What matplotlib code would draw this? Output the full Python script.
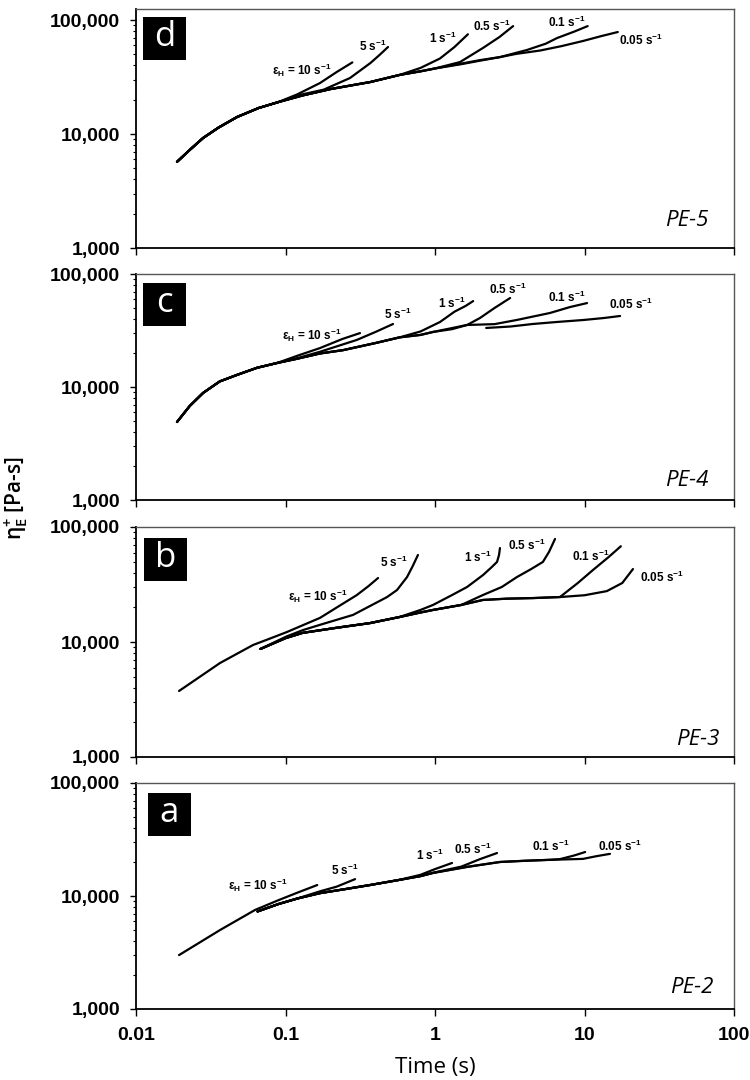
import matplotlib
matplotlib.use("Agg")
import matplotlib.pyplot as plt
from matplotlib.font_manager import FontProperties
from matplotlib.patches import Rectangle
from matplotlib.ticker import FixedLocator, FuncFormatter, LogLocator, NullFormatter

# Extension rates, in the order the curves are stored for every sample
RATES = ["10", "5", "1", "0.5", "0.1", "0.05"]

# ---- PE-5 : transient extensional viscosity (t [s], eta [Pa-s]) ----
pe5_10 = [(0.0188, 5700), (0.0229, 7260), (0.0281, 9230), (0.0355, 11350), (0.0474, 14100),
          (0.066, 16900), (0.09, 19100), (0.12, 22300), (0.17, 28000), (0.22, 35000),
          (0.28, 42500)]
pe5_5 = [(0.0188, 5700), (0.0229, 7260), (0.0281, 9230), (0.0355, 11350), (0.0474, 14100),
         (0.066, 16900), (0.09, 19100), (0.12, 21800), (0.18, 24500), (0.27, 31000),
         (0.37, 42000), (0.43, 50000), (0.485, 58000)]
pe5_1 = [(0.0188, 5700), (0.0229, 7260), (0.0281, 9230), (0.0355, 11350), (0.0474, 14100),
         (0.066, 16900), (0.09, 19100), (0.13, 21800), (0.2, 24800), (0.37, 28600),
         (0.58, 33000), (0.8, 38000), (1.08, 46000), (1.35, 58000), (1.66, 75000)]
pe5_05 = [(0.0188, 5700), (0.0229, 7260), (0.0281, 9230), (0.0355, 11350), (0.0474, 14100),
          (0.066, 16900), (0.09, 19100), (0.13, 21800), (0.2, 24800), (0.37, 28600),
          (0.58, 33000), (0.8, 35500), (1.0, 37600), (1.47, 42800), (2.09, 56800),
          (2.7, 71000), (3.33, 88500)]
pe5_01 = [(0.0188, 5700), (0.0229, 7260), (0.0281, 9230), (0.0355, 11350), (0.0474, 14100),
          (0.066, 16900), (0.09, 19100), (0.13, 21800), (0.2, 24800), (0.37, 28600),
          (0.58, 33000), (0.8, 35500), (1.0, 37600), (1.5, 41500), (2.0, 44500),
          (2.72, 47300), (4.12, 54600), (5.5, 62000), (6.55, 69500), (8.5, 79000),
          (10.5, 88500)]
pe5_005 = [(0.0188, 5700), (0.0229, 7260), (0.0281, 9230), (0.0355, 11350), (0.0474, 14100),
           (0.066, 16900), (0.09, 19100), (0.13, 21800), (0.2, 24800), (0.37, 28600),
           (0.58, 33000), (0.8, 35500), (1.0, 37600), (1.5, 41000), (2.0, 44000),
           (2.72, 47300), (3.5, 50500), (5.04, 54000), (7.0, 59000), (9.77, 65500),
           (13.0, 72400), (16.7, 78500)]

# ---- PE-4 ----
pe4_10 = [(0.0188, 4900), (0.0229, 6800), (0.0281, 8860), (0.0363, 11200), (0.0474, 12800),
          (0.0646, 14800), (0.0877, 16300), (0.12, 18900), (0.17, 22100), (0.24, 26600),
          (0.315, 30000)]
pe4_5 = [(0.0188, 4900), (0.0229, 6800), (0.0281, 8860), (0.0363, 11200), (0.0474, 12800),
         (0.0646, 14800), (0.0877, 16300), (0.12, 18000), (0.17, 20500), (0.3, 26100),
         (0.4, 30700), (0.524, 36100)]
pe4_1 = [(0.0188, 4900), (0.0229, 6800), (0.0281, 8860), (0.0363, 11200), (0.0474, 12800),
         (0.0646, 14800), (0.0877, 16300), (0.12, 17800), (0.17, 19800), (0.243, 21200),
         (0.4, 24500), (0.58, 27500), (0.8, 31000), (1.08, 37600), (1.35, 46400),
         (1.6, 52100), (1.8, 57600)]
pe4_05 = [(0.0188, 4900), (0.0229, 6800), (0.0281, 8860), (0.0363, 11200), (0.0474, 12800),
          (0.0646, 14800), (0.0877, 16300), (0.12, 17800), (0.17, 19800), (0.243, 21200),
          (0.4, 24500), (0.58, 27500), (0.8, 28900), (0.97, 30700), (1.3, 32500),
          (1.64, 35400), (2.0, 40800), (2.5, 50000), (3.18, 61300)]
pe4_01 = [(0.0188, 4900), (0.0229, 6800), (0.0281, 8860), (0.0363, 11200), (0.0474, 12800),
          (0.0646, 14800), (0.0877, 16300), (0.12, 17800), (0.17, 19800), (0.243, 21200),
          (0.4, 24500), (0.58, 27500), (0.8, 28900), (0.97, 30700), (1.64, 35400),
          (2.5, 36000), (3.53, 39200), (5.88, 45200), (8.0, 51000), (10.4, 55300)]
pe4_005 = [(2.2, 33300), (3.2, 34300), (4.5, 36100), (6.5, 37600), (9.9, 39200),
           (13.5, 40800), (17.3, 42500)]

# ---- PE-3 ----
pe3_10 = [(0.0194, 3750), (0.0365, 6570), (0.0607, 9420), (0.08, 10800), (0.102, 12200),
          (0.17, 16200), (0.24, 21400), (0.30, 25600), (0.36, 30700), (0.416, 36000)]
pe3_5 = [(0.068, 8700), (0.085, 10000), (0.102, 11200), (0.131, 12700), (0.17, 14100),
         (0.283, 17200), (0.478, 24600), (0.557, 28300), (0.65, 36700), (0.71, 45800),
         (0.769, 57100)]
pe3_1 = [(0.068, 8700), (0.1, 10800), (0.13, 12000), (0.22, 13300), (0.367, 14600),
         (0.58, 16500), (0.8, 19000), (0.97, 21000), (1.3, 25600), (1.64, 30100),
         (2.1, 38300), (2.4, 44900), (2.6, 49700), (2.68, 57000), (2.72, 65600)]
pe3_05 = [(0.068, 8700), (0.1, 10800), (0.13, 12000), (0.22, 13300), (0.367, 14600),
          (0.58, 16500), (0.79, 18000), (0.97, 19000), (1.5, 21000), (2.09, 25600),
          (2.8, 30100), (3.53, 36700), (4.4, 43100), (5.27, 49700), (5.8, 61000),
          (6.35, 78700)]
pe3_01 = [(0.068, 8700), (0.1, 10800), (0.13, 12000), (0.22, 13300), (0.367, 14600),
          (0.58, 16500), (0.79, 18000), (0.97, 19000), (1.5, 21000), (2.09, 23200),
          (3.0, 23800), (4.53, 24100), (6.85, 24600), (9.0, 32500), (11.4, 42300),
          (14.5, 54800), (17.5, 68000)]
pe3_005 = [(0.068, 8700), (0.1, 10800), (0.13, 12000), (0.22, 13300), (0.367, 14600),
           (0.58, 16500), (0.79, 18000), (0.97, 19000), (1.5, 21000), (2.09, 23200),
           (3.0, 23800), (4.53, 24100), (6.85, 24600), (10.0, 25500), (14.1, 27700),
           (17.9, 32600), (21.1, 43100)]

# ---- PE-2 ----
pe2_10 = [(0.0194, 3000), (0.0365, 5000), (0.0625, 7520), (0.09, 9200), (0.12, 10700),
          (0.163, 12500)]
pe2_5 = [(0.065, 7300), (0.09, 8500), (0.12, 9500), (0.17, 11000), (0.22, 12100),
         (0.292, 14100)]
pe2_1 = [(0.065, 7300), (0.09, 8500), (0.12, 9500), (0.17, 10600), (0.25, 11500),
         (0.367, 12500), (0.58, 13900), (0.8, 15400), (1.0, 17300), (1.3, 19600)]
pe2_05 = [(0.065, 7300), (0.09, 8500), (0.12, 9500), (0.17, 10600), (0.25, 11500),
          (0.367, 12500), (0.58, 13900), (0.8, 15000), (1.0, 16200), (1.5, 18200),
          (2.0, 21200), (2.6, 24000)]
pe2_01 = [(0.065, 7300), (0.09, 8500), (0.12, 9500), (0.17, 10600), (0.25, 11500),
          (0.367, 12500), (0.58, 13900), (0.8, 15000), (0.97, 16000), (1.64, 18100),
          (2.72, 20000), (4.0, 20500), (5.88, 20900), (6.85, 21200), (8.5, 22800),
          (10.1, 24500)]
pe2_005 = [(0.065, 7300), (0.09, 8500), (0.12, 9500), (0.17, 10600), (0.25, 11500),
           (0.367, 12500), (0.58, 13900), (0.8, 15000), (0.97, 16000), (1.64, 18100),
           (2.72, 20000), (4.0, 20500), (5.88, 20900), (9.77, 21300), (12.0, 22500),
           (14.8, 23600)]

SAMPLES = ["PE-5", "PE-4", "PE-3", "PE-2"]
LETTERS = ["d", "c", "b", "a"]

# ---- layout (pixels of a 750 x 1080 canvas) ----
W, H = 750, 1080
AX_LEFT, AX_RIGHT = 136, 734
# (top, bottom) pixel rows of each plot box
PANEL_ROWS = [(9, 248), (274, 500), (527, 757), (783, 1009)]
Y_TOPS = [1.25e5, 1e5, 1e5, 1e5]

# rate-label anchors in data coordinates
RATE_LABEL_XY = [
    [(0.129, 36400), (0.385, 59200), (1.13, 69500), (2.40, 88500), (7.64, 96000), (23.9, 66800)],
    [(0.150, 28800), (0.566, 44300), (1.30, 55300), (3.08, 73600), (7.64, 62500), (20.5, 54300)],
    [(0.165, 25100), (0.532, 49700), (1.94, 54800), (4.12, 69700), (11.0, 56000), (33.0, 36700)],
    [(0.0655, 12500), (0.250, 17000), (0.926, 23100), (1.80, 26100), (5.97, 27200), (17.3, 27700)],
]
# (left px offset, top px offset) of the letter badge inside each box
BADGE_OFFSETS = [(7, 8), (7, 9), (8, 11), (12, 10)]
# sample name anchor (right edge, centre) in axes fraction
SAMPLE_XY = [(0.958, 0.113), (0.958, 0.088), (0.975, 0.074), (0.966, 0.093)]

TICK_FONT = FontProperties(family="Liberation Sans", weight="bold", size=14)
RATE_FONT = dict(family="Liberation Sans", weight="bold", size=8.5)

panels = [
    [pe5_10, pe5_5, pe5_1, pe5_05, pe5_01, pe5_005],
    [pe4_10, pe4_5, pe4_1, pe4_05, pe4_01, pe4_005],
    [pe3_10, pe3_5, pe3_1, pe3_05, pe3_01, pe3_005],
    [pe2_10, pe2_5, pe2_1, pe2_05, pe2_01, pe2_005],
]


def rate_text(rate):
    txt = rate + r" s$^{\mathregular{-1}}$"
    if rate == "10":
        txt = r"ε$_{\mathregular{H}}$ = " + txt
    return txt


fig = plt.figure(figsize=(W / 100, H / 100), dpi=100)
fig.patch.set_facecolor("white")

for i, curves in enumerate(panels):
    top, bottom = PANEL_ROWS[i]
    ax = fig.add_axes([AX_LEFT / W, 1 - bottom / H, (AX_RIGHT - AX_LEFT) / W, (bottom - top) / H])
    ax.set_xscale("log")
    ax.set_yscale("log")
    ax.set_xlim(0.01, 100)
    ax.set_ylim(1000, Y_TOPS[i])

    for pts in curves:
        t, eta = zip(*pts)
        ax.plot(t, eta, color="black", lw=1.6, solid_joinstyle="round", solid_capstyle="round")

    for rate, (x, y) in zip(RATES, RATE_LABEL_XY[i]):
        ax.text(x, y, rate_text(rate), ha="center", va="center", **RATE_FONT)

    # letter badge
    box_w, box_h = 43 / (AX_RIGHT - AX_LEFT), 43 / (bottom - top)
    dx, dy = BADGE_OFFSETS[i]
    bx = dx / (AX_RIGHT - AX_LEFT)
    by = 1 - dy / (bottom - top) - box_h
    ax.add_patch(Rectangle((bx, by), box_w, box_h, transform=ax.transAxes,
                           facecolor="black", edgecolor="none", zorder=5))
    ax.text(bx + box_w / 2, by + box_h / 2 + 0.005, LETTERS[i], transform=ax.transAxes,
            ha="center", va="center", color="white", family="Open Sans", size=25, zorder=6)

    sx, sy = SAMPLE_XY[i]
    ax.text(sx, sy, SAMPLES[i], transform=ax.transAxes, ha="right", va="center",
            family="Open Sans", style="italic", size=16)

    # axes styling
    for side in ("top", "right"):
        ax.spines[side].set_color("#555555")
        ax.spines[side].set_linewidth(1.0)
    for side in ("left", "bottom"):
        ax.spines[side].set_color("black")
        ax.spines[side].set_linewidth(1.3)

    ax.yaxis.set_major_locator(FixedLocator([1e3, 1e4, 1e5]))
    ax.yaxis.set_minor_locator(LogLocator(base=10, subs=range(2, 10)))
    ax.yaxis.set_minor_formatter(NullFormatter())
    ax.yaxis.set_major_formatter(FuncFormatter(lambda v, _: f"{v:,.0f}"))
    ax.tick_params(axis="y", which="major", direction="out", length=4.5, width=1, pad=7)
    ax.tick_params(axis="y", which="minor", direction="out", length=2.5, width=0.8)

    ax.xaxis.set_major_locator(FixedLocator([0.01, 0.1, 1, 10, 100]))
    ax.xaxis.set_minor_locator(FixedLocator([]))
    ax.xaxis.set_major_formatter(FuncFormatter(lambda v, _: f"{v:g}"))
    ax.tick_params(axis="x", which="major", direction="out", length=5, width=1, pad=8)
    if i < len(panels) - 1:
        ax.tick_params(axis="x", labelbottom=False)

    for lab in ax.get_xticklabels() + ax.get_yticklabels():
        lab.set_fontproperties(TICK_FONT)

fig.text(435 / W, 1 - 1067 / H, "Time (s)", ha="center", va="center",
         family="Open Sans", size=16)
fig.text(16 / W, 1 - 498 / H, r"η$_{\mathregular{E}}^{\mathregular{+}}$ [Pa-s]",
         rotation=90, ha="center", va="center", family="Open Sans", weight="semibold", size=15)

fig.savefig("out.png", dpi=100, facecolor="white")
